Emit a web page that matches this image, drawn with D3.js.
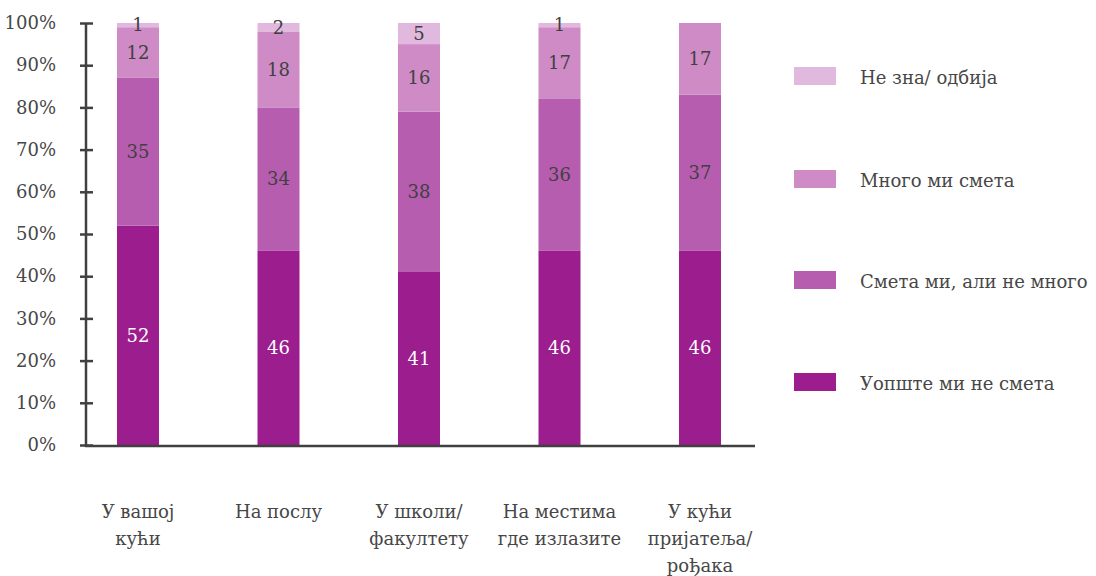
<!DOCTYPE html>
<html>
<head>
<meta charset="utf-8">
<script src="https://cdn.jsdelivr.net/npm/d3@7"></script>
<style>
  html, body { margin: 0; padding: 0; background: #fff; }
</style>
</head>
<body>
<svg id="chart" width="1096" height="576"></svg>
<script>
// Places where the respondent is bothered
const categories = [
  ["У вашој", "кући"],
  ["На послу"],
  ["У школи/", "факултету"],
  ["На местима", "где излазите"],
  ["У кући", "пријатеља/", "рођака"]
];

// Answer series, bottom to top of each bar
const seriesNames = ["Уопште ми не смета", "Смета ми, али не много", "Много ми смета", "Не зна/ одбија"];
const notAtAll   = [52, 46, 41, 46, 46];
const aLittle    = [35, 34, 38, 36, 37];
const aLot       = [12, 18, 16, 17, 17];
const dontKnow   = [1, 2, 5, 1, 0];

const yTicks = [0, 10, 20, 30, 40, 50, 60, 70, 80, 90, 100];
const colors = ["#9b1d8e", "#b65daf", "#ce8bc6", "#e1b8de"];

const FONT = "'DejaVu Serif', serif";
const FS = 18;
const TEXT = "#474747";

const svg = d3.select("#chart");
const plotLeft = 86, plotRight = 755, plotTop = 23, plotBottom = 445;

const keys = categories.map((c, i) => i);
const rows = keys.map(i => ({
  key: i,
  s0: notAtAll[i], s1: aLittle[i], s2: aLot[i], s3: dontKnow[i]
}));
const layers = d3.stack().keys(["s0", "s1", "s2", "s3"])(rows);

const x = d3.scalePoint().domain(keys).range([138, 700]);
const barW = 42;
const y = d3.scaleLinear().domain([0, 100]).range([plotBottom, plotTop]);

// Bars
const g = svg.append("g");
layers.forEach((layer, li) => {
  g.selectAll(null).data(layer).enter().append("rect")
    .attr("x", d => x(d.data.key) - barW / 2)
    .attr("y", d => y(d[1]))
    .attr("width", barW)
    .attr("height", d => y(d[0]) - y(d[1]))
    .attr("fill", colors[li]);
});

// Value labels
layers.forEach((layer, li) => {
  g.selectAll(null).data(layer.filter(d => d[1] - d[0] > 0)).enter().append("text")
    .attr("x", d => x(d.data.key))
    .attr("y", d => y((d[0] + d[1]) / 2))
    .attr("dy", "0.35em")
    .attr("text-anchor", "middle")
    .style("font-family", FONT)
    .style("font-size", FS + "px")
    .attr("fill", li === 0 ? "#ffffff" : "#404040")
    .text(d => d[1] - d[0]);
});

// Y axis
const yAxis = d3.axisLeft(y).tickValues(yTicks).tickFormat(d => d + "%").tickSize(0);
const ya = svg.append("g").attr("transform", `translate(${plotLeft},0)`).call(yAxis);
ya.select(".domain").remove();
ya.selectAll("text").attr("x", -30).attr("fill", TEXT)
  .style("font-family", FONT).style("font-size", FS + "px");
ya.selectAll(".tick").append("line")
  .attr("x1", -6).attr("x2", 7)
  .attr("stroke", "#404040").attr("stroke-width", 2.5);
svg.append("line")
  .attr("x1", plotLeft).attr("x2", plotLeft).attr("y1", y(100)).attr("y2", y(0) + 1)
  .attr("stroke", "#404040").attr("stroke-width", 2.5);

// X axis line
svg.append("line")
  .attr("x1", plotLeft - 1.25).attr("x2", plotRight).attr("y1", y(0) + 1).attr("y2", y(0) + 1)
  .attr("stroke", "#404040").attr("stroke-width", 2.5);

// Category labels
categories.forEach((lines, i) => {
  const t = svg.append("text")
    .attr("x", x(i))
    .attr("y", 518)
    .attr("text-anchor", "middle")
    .style("font-family", FONT)
    .style("font-size", FS + "px")
    .attr("fill", TEXT);
  lines.forEach((ln, j) => {
    t.append("tspan").attr("x", x(i)).attr("dy", j === 0 ? 0 : 27).text(ln);
  });
});

// Legend, top entry is the top of the stack
const legendY = [76, 179, 280, 382];
const legendOrder = [3, 2, 1, 0];
legendOrder.forEach((si, k) => {
  svg.append("rect")
    .attr("x", 794).attr("y", legendY[k] - 9)
    .attr("width", 42).attr("height", 18)
    .attr("fill", colors[si]);
  svg.append("text")
    .attr("x", 860).attr("y", legendY[k] + 8)
    .style("font-family", FONT)
    .style("font-size", FS + "px")
    .attr("fill", TEXT)
    .text(seriesNames[si]);
});
</script>
</body>
</html>
